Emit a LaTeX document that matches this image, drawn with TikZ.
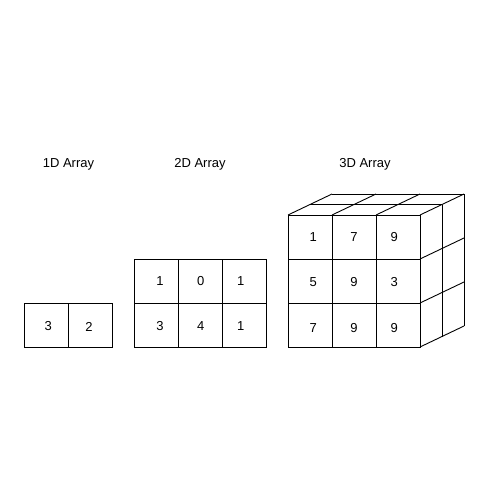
\documentclass[tikz,border=0pt]{standalone}
\usepackage{fontspec}
\setmainfont{Liberation Sans}
\begin{document}
\begin{tikzpicture}[x=1pt,y=-1pt,
  cell/.style={draw=black,line width=0.9pt,minimum size=44pt,inner sep=0pt},
  digit/.style={inner sep=0pt,font=\fontsize{13}{15}\selectfont},
  title/.style={anchor=base,inner sep=0pt,font=\fontsize{13}{15}\selectfont},
  edge/.style={draw=black,line width=0.9pt,line join=miter}]
\useasboundingbox (0,0) rectangle (500,500);
% titles
\node[title] (t1) at (68.5,167.5) {1D Array};
\node[title] (t2) at (200,167.5) {2D Array};
\node[title] (t3) at (365,167.5) {3D Array};
% 1D
\node[cell] (a1) at (46,325) {};
\node[cell] (a2) at (90,325) {};
\node[digit] (da1) at ([shift={(2.3,1.5)}]a1.center) {3};
\node[digit] (da2) at ([shift={(-1,1.5)}]a2.center) {2};
% 2D
\node[cell] (b11) at (156,281) {};
\node[cell] (b12) at (200,281) {};
\node[cell] (b13) at (244,281) {};
\node[cell] (b21) at (156,325) {};
\node[cell] (b22) at (200,325) {};
\node[cell] (b23) at (244,325) {};
\node[digit] (db11) at ([shift={(4,0.3)}]b11.center) {1};
\node[digit] (db12) at ([shift={(0.7,0.3)}]b12.center) {0};
\node[digit] (db13) at ([shift={(-3.3,0.3)}]b13.center) {1};
\node[digit] (db21) at ([shift={(4,1.3)}]b21.center) {3};
\node[digit] (db22) at ([shift={(0.7,1.3)}]b22.center) {4};
\node[digit] (db23) at ([shift={(-3.3,1.3)}]b23.center) {1};
% 3D top and right faces
\foreach \x in {288,332,376,420} \draw[edge] (\x,215) -- ++(44,-21);
\draw[edge] (310,204.5) -- (442,204.5);
\draw[edge] (332,194) -- (464,194);
\foreach \y in {259,303,347} \draw[edge] (420,\y) -- ++(44,-21);
\draw[edge] (442,204.5) -- (442,336.5);
\draw[edge] (464,194) -- (464,326);
% 3D front
\node[cell] (c11) at (310,237) {};
\node[cell] (c12) at (354,237) {};
\node[cell] (c13) at (398,237) {};
\node[cell] (c21) at (310,281) {};
\node[cell] (c22) at (354,281) {};
\node[cell] (c23) at (398,281) {};
\node[cell] (c31) at (310,325) {};
\node[cell] (c32) at (354,325) {};
\node[cell] (c33) at (398,325) {};
\node[digit] (dc11) at ([shift={(3.3,0.5)}]c11.center) {1};
\node[digit] (dc12) at ([shift={(0,0.5)}]c12.center) {7};
\node[digit] (dc13) at ([shift={(-3.7,0.5)}]c13.center) {9};
\node[digit] (dc21) at ([shift={(3.3,1)}]c21.center) {5};
\node[digit] (dc22) at ([shift={(0,1)}]c22.center) {9};
\node[digit] (dc23) at ([shift={(-3.7,1)}]c23.center) {3};
\node[digit] (dc31) at ([shift={(3.3,3)}]c31.center) {7};
\node[digit] (dc32) at ([shift={(0,3)}]c32.center) {9};
\node[digit] (dc33) at ([shift={(-3.7,3)}]c33.center) {9};
\end{tikzpicture}
\end{document}
